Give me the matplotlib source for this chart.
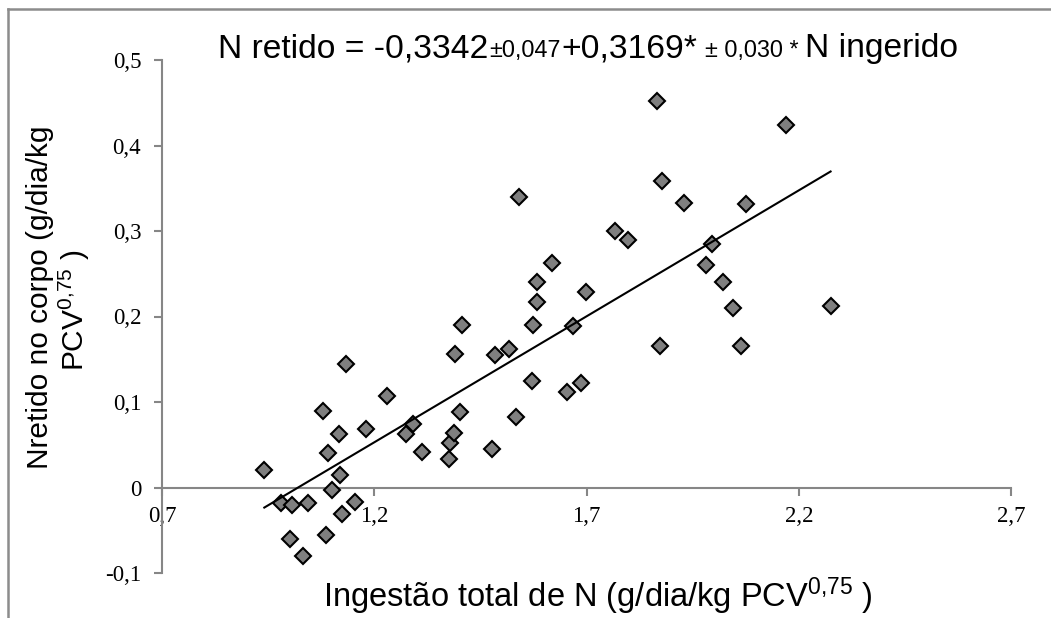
import numpy as np
import matplotlib
matplotlib.use("Agg")
import matplotlib.pyplot as plt
from matplotlib.lines import Line2D

# ingestao total de N vs N retido
n_ingerido = [0.941, 0.980, 1.007, 1.044, 1.002, 1.032, 1.086, 1.124, 1.154, 1.100,
              1.120, 1.092, 1.117, 1.080, 1.134, 1.181, 1.231, 1.275, 1.291, 1.313,
              1.376, 1.378, 1.387, 1.402, 1.390, 1.407, 1.478, 1.485, 1.517, 1.533,
              1.572, 1.573, 1.584, 1.867, 2.169, 1.541, 1.879, 1.930, 2.076, 1.766,
              1.797, 1.996, 1.619, 1.981, 1.583, 2.022, 1.698, 2.044, 2.275, 1.669,
              1.873, 2.064, 1.654, 1.687]
n_retido = [0.020, -0.018, -0.021, -0.018, -0.060, -0.080, -0.056, -0.031, -0.017, -0.003,
            0.015, 0.040, 0.063, 0.090, 0.144, 0.068, 0.107, 0.062, 0.074, 0.042,
            0.033, 0.052, 0.064, 0.088, 0.156, 0.190, 0.045, 0.155, 0.162, 0.083,
            0.125, 0.190, 0.217, 0.452, 0.424, 0.340, 0.359, 0.333, 0.331, 0.300,
            0.289, 0.285, 0.263, 0.260, 0.240, 0.240, 0.229, 0.210, 0.212, 0.189,
            0.165, 0.166, 0.112, 0.122]

xticks = [0.7, 1.2, 1.7, 2.2, 2.7]
xtick_labels = ["0,7", "1,2", "1,7", "2,2", "2,7"]
yticks = [-0.1, 0, 0.1, 0.2, 0.3, 0.4, 0.5]
ytick_labels = ["-0,1", "0", "0,1", "0,2", "0,3", "0,4", "0,5"]

title_parts = [("N retido = -0,3342", "big"), ("±0,047", "small"), ("+0,3169*", "big"),
               ("± 0,030 *", "small"), ("N ingerido", "big")]

plt.rcParams["mathtext.fontset"] = "custom"
plt.rcParams["mathtext.rm"] = "Liberation Sans"
plt.rcParams["mathtext.it"] = "Liberation Sans"

W, H = 1051, 618
fig = plt.figure(figsize=(W / 100, H / 100), dpi=100)
ax = fig.add_axes([162 / W, 1 - 573 / H, (1011 - 162) / W, (573 - 60) / H])

x = np.array(n_ingerido)
y = np.array(n_retido)
ax.plot(x, y, ls="none", marker="D", ms=8, mfc="#7f7f7f", mec="black", mew=1.5, zorder=3)

# linear trendline over the data range
b1, b0 = np.polyfit(x, y, 1)
xl = np.array([x.min(), x.max()])
ax.plot(xl, b0 + b1 * xl, color="black", lw=1.5, zorder=4)

ax.set_xlim(0.7, 2.7)
ax.set_ylim(-0.1, 0.5)
for s in ["top", "right"]:
    ax.spines[s].set_visible(False)
ax.spines["bottom"].set_position(("data", 0))
gray = "#868686"
for s in ["left", "bottom"]:
    ax.spines[s].set_color(gray)
    ax.spines[s].set_linewidth(1.5)
ax.set_xticks(xticks)
ax.set_xticklabels(xtick_labels)
ax.set_yticks(yticks)
ax.set_yticklabels(ytick_labels)
ax.tick_params(axis="both", direction="out", length=6, width=1.5, color=gray,
               labelsize=16.5)
ax.tick_params(axis="x", pad=7)
ax.tick_params(axis="y", pad=9)
for lab in ax.get_xticklabels() + ax.get_yticklabels():
    lab.set_family("Liberation Serif")

sans = "Liberation Sans"
fig.text(598 / W, 1 - 596 / H, r"Ingestão total de N (g/dia/kg PCV$^{0{,}75}$ )",
         fontsize=23.5, family=sans, ha="center", va="center")
fig.text(40 / W, 1 - 297 / H, "Nretido no corpo (g/dia/kg", fontsize=21.5, family=sans,
         rotation=90, ha="center", va="center")
fig.text(74 / W, 1 - 310 / H, r"PCV$^{0{,}75}$ )", fontsize=21.5, family=sans,
         rotation=90, ha="center", va="center")

# title with mixed sizes
renderer = fig.canvas.get_renderer()
xpos = 218
sizes = {"big": 24.2, "small": 16.8}
for txt, kind in title_parts:
    t = fig.text(xpos / W, 1 - 57 / H, txt, fontsize=sizes[kind], family=sans,
                 ha="left", va="baseline")
    bb = t.get_window_extent(renderer)
    gap = 7 if txt.startswith("+0,3169") or txt.startswith("± 0") else 1
    xpos = bb.x1 + gap

# outer frame (top and left only)
fig.add_artist(Line2D([8 / W, 1], [1 - 9 / H, 1 - 9 / H], transform=fig.transFigure,
                      color="#8c8c8c", lw=1.8))
fig.add_artist(Line2D([8 / W, 8 / W], [0, 1 - 9 / H], transform=fig.transFigure,
                      color="#8c8c8c", lw=1.8))

fig.savefig("out.png", dpi=100)
